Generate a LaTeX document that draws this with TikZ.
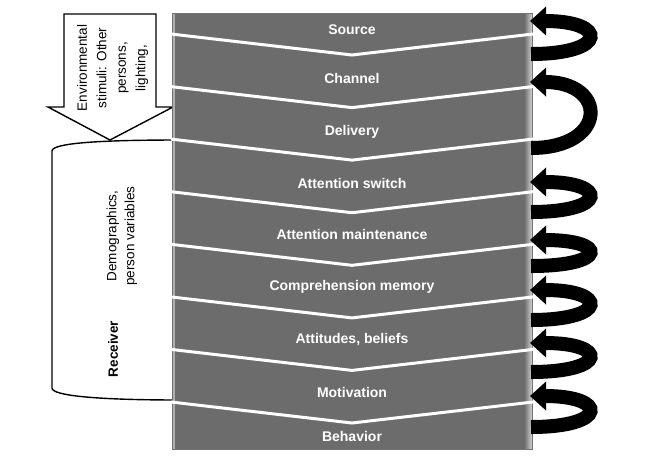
\documentclass[tikz,border=0pt]{standalone}
\usepackage{fontspec}
\setmainfont{Liberation Sans}
\usetikzlibrary{positioning}
\usetikzlibrary{arrows.meta}
\definecolor{chevgray}{RGB}{108,108,108}
\definecolor{bevelgray}{RGB}{210,210,210}

\begin{document}
\begin{tikzpicture}[x=1pt,y=-1pt,font=\fontsize{13.5}{19.5}\selectfont,
  steplbl/.style={text=white,font=\fontsize{14}{16}\selectfont\bfseries},
  outline/.style={draw=black,line width=1.4pt,fill=white},
  loopy/.style={line width=14pt,-{Triangle[length=16pt,width=28pt]}}]
\useasboundingbox (0,0) rectangle (647,464);

% ==================== Receiver ====================
\draw[outline] (180,140) .. controls (100,140) and (52,143) .. (52,151)
  -- (52,388) .. controls (52,396) and (100,400) .. (180,400);
\node[rotate=90,align=center,font=\fontsize{13.5}{18}\selectfont] (demo) at (122,236)
  {Demographics,\\person variables};
\node[rotate=90,font=\fontsize{13.5}{15}\selectfont\bfseries] (recv) at (113,349) {Receiver};

% ==================== Environmental stimuli ====================
\draw[outline] (64,14) -- (156,14) -- (156,107) -- (173,107) -- (110,140)
  -- (48,107) -- (64,107) -- cycle;
\begin{scope}
  \clip (64.7,14.7) -- (155.3,14.7) -- (155.3,107.7) -- (171,107.7) -- (110,139)
    -- (50,107.7) -- (64.7,107.7) -- cycle;
  \node[rotate=90,align=center] (env) at (121,68)
    {Environmental\\stimuli: Other\\persons,\\lighting,\\\dots};
\end{scope}

% ==================== Chevron stack ====================
\fill[chevgray] (172,13) rectangle (532,449);
\fill[chevgray!55!white] (172,13) rectangle (174.5,449);
\shade[left color=chevgray,right color=bevelgray] (524,13) rectangle (532,449);
\draw[black!55,line width=0.8pt] (172,13) rectangle (532,449);
\foreach \b in {34,86.6,139.1,191.7,244.3,296.9,349.4,402}
  \draw[white,line width=3pt] (171,\b) -- (352,\b+21) -- (533,\b);

\node[steplbl] (src)   at (352,30)  {Source};
\node[steplbl] (chn)   at (352,78)  {Channel};
\node[steplbl] (dlv)   at (352,132) {Delivery};
\node[steplbl] (attsw) at (352,183) {Attention switch};
\node[steplbl] (attmt) at (352,234) {Attention maintenance};
\node[steplbl] (comp)  at (352,287) {Comprehension memory};
\node[steplbl] (attb)  at (352,340) {Attitudes, beliefs};
\node[steplbl] (motiv) at (352,392) {Motivation};
\node[steplbl] (behav) at (352,436) {Behavior};

% ==================== Feedback loops ====================
\foreach \t/\h in {54/21, 148/82, 212/182, 266/240, 320/290, 372/343, 427/396} {
  \coordinate (tail) at (531,\t);
  \coordinate (head) at (530,\h);
  \draw[loopy] (tail) .. controls +(77,0) and +(78,0) .. (head);
}

\end{tikzpicture}
\end{document}
